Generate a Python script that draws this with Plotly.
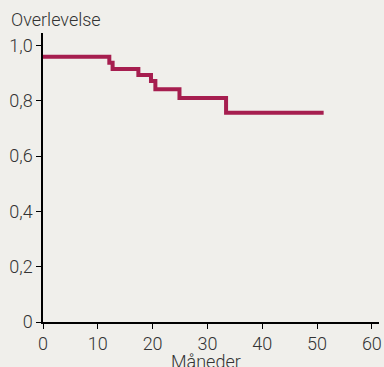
import plotly.graph_objects as go

months = [0, 12.1, 12.7, 17.4, 19.7, 20.5, 24.9, 33.4, 51.2]
survival = [0.959, 0.937, 0.915, 0.893, 0.871, 0.842, 0.810, 0.757, 0.757]

x_ticks = [0, 10, 20, 30, 40, 50, 60]
y_ticks = [0, 0.2, 0.4, 0.6, 0.8, 1.0]
y_labels = ["0", "0,2", "0,4", "0,6", "0,8", "1,0"]

bg = "#F0EFEB"
line_col = "#A61E4F"
font = dict(family="Roboto, Liberation Sans, Arial", size=18, color="#333333", weight=300)

W, H = 384, 367
L, R, T, B = 43, 5, 33, 45
pw, ph = W - L - R, H - T - B

fig = go.Figure()
fig.add_trace(go.Scatter(x=months, y=survival, mode="lines", line_shape="hv",
                         line=dict(color=line_col, width=4), hoverinfo="skip"))

fig.update_layout(
    width=W, height=H,
    paper_bgcolor=bg, plot_bgcolor=bg,
    margin=dict(l=L, r=R, t=T, b=B, pad=0),
    showlegend=False,
    font=font,
    xaxis=dict(range=[0, 61.3], tickvals=x_ticks, ticks="outside", ticklen=5,
               tickcolor="black", showline=True, linecolor="black", linewidth=1.5,
               showgrid=False, zeroline=False, tickfont=font, automargin=False),
    yaxis=dict(range=[0, 1.045], tickvals=y_ticks, ticktext=y_labels, ticks="outside",
               ticklen=5, tickcolor="black", showline=True, linecolor="black",
               linewidth=1.5, showgrid=False, zeroline=False, tickfont=font,
               automargin=False),
    annotations=[
        dict(text="Overlevelse", x=(9 - L) / pw, y=(H - B - 20) / ph,
             xref="paper", yref="paper", xanchor="left", yanchor="middle",
             showarrow=False, font=font),
        dict(text="Måneder", x=(206 - L) / pw, y=(H - B - 361) / ph,
             xref="paper", yref="paper", xanchor="center", yanchor="middle",
             showarrow=False, font=font),
    ],
)
fig.write_html("out.html", config={"displayModeBar": False},
               post_script="document.body.style.margin='0px';")
